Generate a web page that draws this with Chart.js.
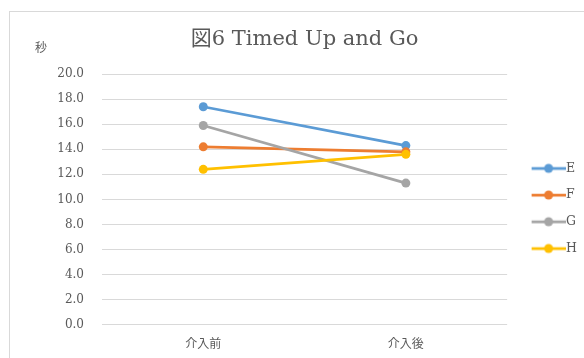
<!DOCTYPE html>
<html>
<head>
<meta charset="utf-8">
<script src="https://cdn.jsdelivr.net/npm/chart.js@4"></script>
<style>
  html, body { margin: 0; padding: 0; background: #fff; overflow: hidden; }
  #marco { position: absolute; left: 9px; top: 11px; width: 640px; height: 420px; border: 1px solid #d9d9d9; }
  #myChart { position: absolute; left: 0; top: 0; }
</style>
</head>
<body>
<div id="marco"></div>
<canvas id="myChart" width="594" height="363"></canvas>
<script>
const categorias = ['介入前', '介入後']
const nombres = ['E', 'F', 'G', 'H']
const serieE = [17.4, 14.3]
const serieF = [14.2, 13.8]
const serieG = [15.9, 11.3]
const serieH = [12.4, 13.6]
const colores = ['#5b9bd5', '#ed7d31', '#a5a5a5', '#ffc000']
const yMin = 0
const yMax = 20
const yPaso = 2

const serif = "'DejaVu Serif', 'Noto Sans CJK JP', serif"
const gris = '#595959'

/* icono de leyenda: linea con circulo */
const iconoLeyenda = (color) => {
  const c = document.createElement('canvas')
  c.width = 50
  c.height = 12
  const ctx = c.getContext('2d')
  ctx.strokeStyle = color
  ctx.lineWidth = 2.75
  ctx.beginPath()
  ctx.moveTo(16, 6)
  ctx.lineTo(50, 6)
  ctx.stroke()
  ctx.fillStyle = color
  ctx.beginPath()
  ctx.arc(33, 6, 4.5, 0, Math.PI * 2)
  ctx.fill()
  return c
}

/* etiqueta "秒" sobre el eje */
const etiquetaEje = {
  id: 'etiquetaEje',
  afterDraw(chart) {
    const { ctx, chartArea } = chart
    ctx.save()
    ctx.fillStyle = gris
    ctx.font = "12px 'Noto Sans CJK JP'"
    ctx.textAlign = 'center'
    ctx.textBaseline = 'middle'
    ctx.fillText('秒', chartArea.left - 61, chartArea.top - 27)
    ctx.restore()
  }
}

const series = [serieE, serieF, serieG, serieH]
const datasets = series.map((data, i) => {
  return {
    label: nombres[i],
    data,
    borderColor: colores[i],
    backgroundColor: colores[i],
    borderWidth: 2.75,
    pointRadius: 4.5,
    pointHoverRadius: 4.5,
    pointBorderWidth: 0,
    order: series.length - i
  }
})

const config = {
  type: 'line',
  data: { labels: categorias, datasets },
  options: {
    responsive: false,
    animation: false,
    layout: { padding: { top: 0, right: 7, bottom: 8, left: 0 } },
    plugins: {
      title: {
        display: true,
        text: '図6 Timed Up and Go',
        color: gris,
        fullSize: false,
        font: { family: serif, size: 21, weight: 'normal' },
        padding: { top: 27, bottom: 22 }
      },
      legend: {
        position: 'right',
        fullSize: false,
        title: { display: true, text: ' ', font: { size: 10 }, padding: 3 },
        labels: {
          usePointStyle: true,
          pointStyleWidth: 38.5,
          padding: 14.2,
          color: gris,
          font: { family: serif, size: 12.5 },
          generateLabels: (chart) => chart.data.datasets.map((ds, i) => ({
            text: ds.label,
            pointStyle: iconoLeyenda(ds.borderColor),
            fillStyle: ds.borderColor,
            strokeStyle: ds.borderColor,
            lineWidth: 0,
            fontColor: gris,
            hidden: !chart.isDatasetVisible(i),
            datasetIndex: i
          }))
        }
      },
      tooltip: { enabled: false }
    },
    scales: {
      x: {
        offset: true,
        grid: { display: false },
        border: { display: false },
        ticks: { color: gris, padding: 4, font: { family: "'Noto Sans CJK JP'", size: 12 } }
      },
      y: {
        min: yMin,
        max: yMax,
        afterFit: (scale) => { scale.width = 102 },
        grid: { color: '#d9d9d9', lineWidth: 1, drawTicks: false },
        border: { display: false },
        ticks: {
          stepSize: yPaso,
          padding: 18,
          color: gris,
          font: { family: serif, size: 12 },
          callback: (v) => v.toFixed(1)
        }
      }
    }
  },
  plugins: [etiquetaEje]
}

new Chart(document.getElementById('myChart'), config)
</script>
</body>
</html>
